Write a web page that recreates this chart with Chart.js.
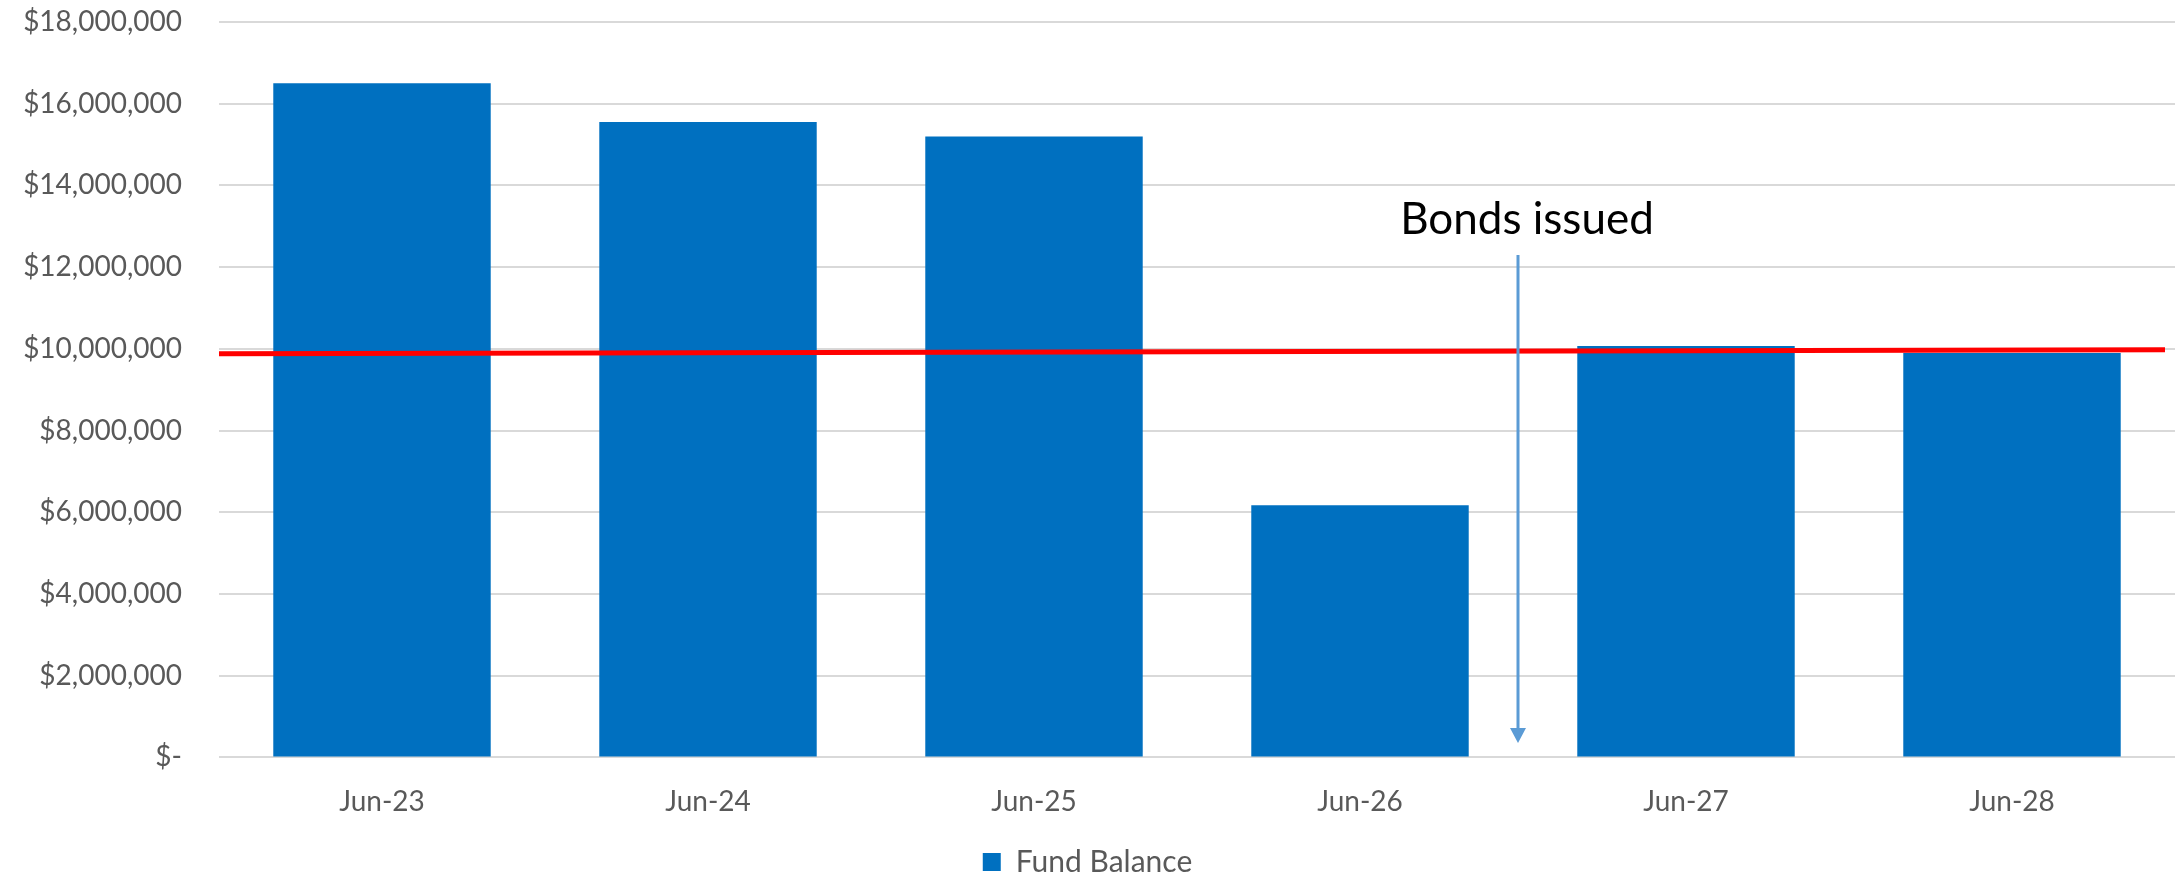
<!DOCTYPE html>
<html lang="en">
<head>
    <meta charset="UTF-8">
    <title>Fund Balance</title>
    <script src="https://cdn.jsdelivr.net/npm/chart.js"></script>
    <style>
        html, body { margin: 0; padding: 0; background: #fff; }
        #wrap { width: 2181px; height: 873px; }
    </style>
</head>
<body>
    <div id="wrap"><canvas id="fundChart"></canvas></div>

    <script>
        // Data
        const periods = ['Jun-23', 'Jun-24', 'Jun-25', 'Jun-26', 'Jun-27', 'Jun-28'];
        const fundBalance = [16500000, 15550000, 15200000, 6170000, 10070000, 9900000];
        // reserve target line (left end, right end)
        const targetLine = [9880000, 9980000];
        // "Bonds issued" annotation: sits between Jun-26 and Jun-27
        const bondsAfter = 'Jun-26';
        const bondsLabel = 'Bonds issued';
        const arrowFrom = 12300000;
        const arrowTo = 350000;
        const labelAt = 12800000;

        const FONT = 'Lato, "Open Sans", sans-serif';

        const overlays = {
            id: 'overlays',
            afterDatasetsDraw(chart) {
                const { ctx, chartArea, scales: { x, y } } = chart;
                ctx.save();

                // red target line
                ctx.strokeStyle = '#ff0000';
                ctx.lineWidth = 5;
                ctx.beginPath();
                ctx.moveTo(chartArea.left, y.getPixelForValue(targetLine[0]));
                ctx.lineTo(chartArea.right - 10, y.getPixelForValue(targetLine[1]));
                ctx.stroke();

                // arrow
                const i = periods.indexOf(bondsAfter);
                const ax = (x.getPixelForValue(i) + x.getPixelForValue(i + 1)) / 2 - 5;
                const top = y.getPixelForValue(arrowFrom);
                const tip = y.getPixelForValue(arrowTo);
                ctx.strokeStyle = '#5b9bd5';
                ctx.fillStyle = '#5b9bd5';
                ctx.lineWidth = 3;
                ctx.beginPath();
                ctx.moveTo(ax, top);
                ctx.lineTo(ax, tip - 12);
                ctx.stroke();
                ctx.beginPath();
                ctx.moveTo(ax - 8, tip - 15);
                ctx.lineTo(ax + 8, tip - 15);
                ctx.lineTo(ax, tip);
                ctx.closePath();
                ctx.fill();

                // label
                ctx.fillStyle = '#000';
                ctx.font = '44px ' + FONT;
                ctx.textAlign = 'center';
                ctx.textBaseline = 'alphabetic';
                ctx.fillText(bondsLabel, ax + 9, y.getPixelForValue(labelAt));
                ctx.restore();
            }
        };

        new Chart(document.getElementById('fundChart'), {
            type: 'bar',
            data: {
                labels: periods,
                datasets: [{
                    label: 'Fund Balance',
                    data: fundBalance,
                    backgroundColor: '#0070c0',
                    borderWidth: 0,
                    barPercentage: 1,
                    categoryPercentage: 0.667
                }]
            },
            options: {
                responsive: true,
                maintainAspectRatio: false,
                animation: false,
                layout: { padding: { left: 0, right: 6, top: 22, bottom: -14 } },
                plugins: {
                    legend: {
                        position: 'bottom',
                        labels: {
                            boxWidth: 18,
                            boxHeight: 18,
                            color: '#595959',
                            font: { family: FONT, size: 30 },
                            padding: 8
                        }
                    },
                    tooltip: { enabled: false }
                },
                scales: {
                    x: {
                        grid: { display: false },
                        border: { display: false },
                        ticks: {
                            color: '#595959',
                            font: { family: FONT, size: 28 },
                            padding: 20
                        }
                    },
                    y: {
                        min: 0,
                        max: 18000000,
                        border: { display: false },
                        grid: { color: '#d9d9d9', lineWidth: 2, drawTicks: false },
                        afterFit(scale) {
                            scale.width = 219;
                            scale.paddingTop = 0;
                            scale.paddingBottom = 0;
                        },
                        ticks: {
                            stepSize: 2000000,
                            color: '#595959',
                            font: { family: FONT, size: 28 },
                            padding: 37,
                            callback: v => v === 0 ? '$-' : '$' + v.toLocaleString('en-US')
                        }
                    }
                }
            },
            plugins: [overlays]
        });
    </script>
</body>
</html>
